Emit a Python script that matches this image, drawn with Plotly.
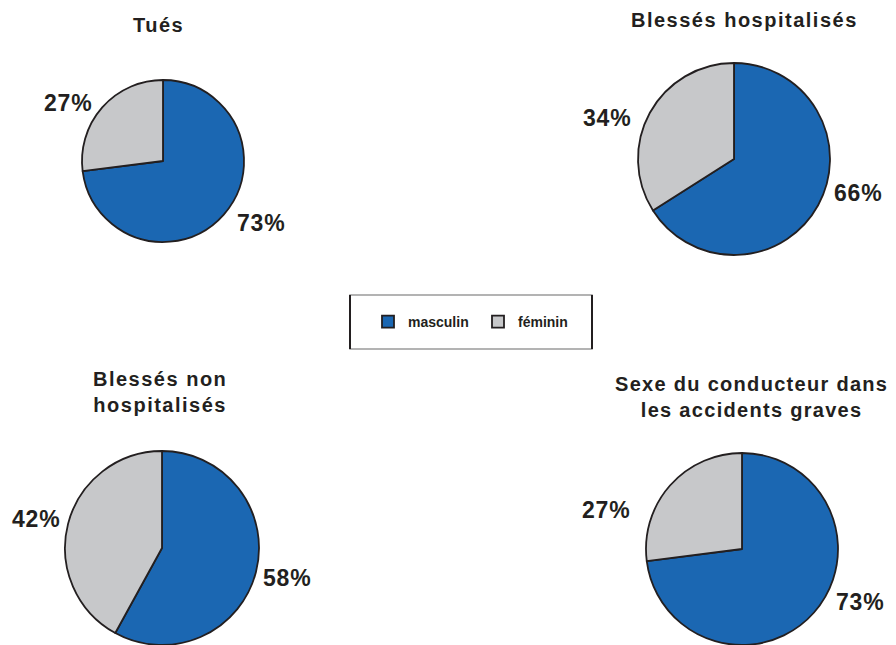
import plotly.graph_objects as go

W, H = 896, 645

categories = ["masculin", "féminin"]
titles = ["Tués", "Blessés hospitalisés", "Blessés non<br>hospitalisés",
          "Sexe du conducteur dans<br>les accidents graves"]
masculin = [73, 66, 58, 73]
feminin = [27, 34, 42, 27]

colors = ["#1b67b2", "#c7c8ca"]
edge = "#231f20"
FONT = "Liberation Sans, Arial, sans-serif"

# layout (pixel) settings: pie centre x, centre y, radius
pies = [(163, 161, 81), (734, 159, 96), (162, 548, 97), (742, 549, 96)]
title_pos = [(158, 25), (744, 20), (160, 392), (751, 397)]
title_spacing = [1.5, 1.5, 1.5, 1.3]
label_pos = [((261, 223), (68, 103)), ((858, 193), (607, 118)),
             ((287, 578), (36, 519)), ((860, 602), (606, 510))]


def spaced(t, px):
    return "<br>".join(f'<span style="letter-spacing:{px}px">{p}</span>' for p in t.split("<br>"))


fig = go.Figure()
for i, (cx, cy, r) in enumerate(pies):
    fig.add_trace(go.Pie(
        labels=categories,
        values=[masculin[i], feminin[i]],
        sort=False, direction="clockwise", rotation=0,
        marker=dict(colors=colors, line=dict(color=edge, width=1.8)),
        textinfo="none", hoverinfo="skip",
        showlegend=(i == 0),
        domain=dict(x=[(cx - r) / W, (cx + r) / W],
                    y=[max(0, 1 - (cy + r) / H), min(1, 1 - (cy - r) / H)]),
    ))

ann = []
for i, (tx, ty) in enumerate(title_pos):
    ann.append(dict(x=tx / W, y=1 - ty / H, xref="paper", yref="paper",
                    text=spaced(titles[i], title_spacing[i]), showarrow=False,
                    xanchor="center", yanchor="middle",
                    font=dict(family=FONT, size=20, color=edge, weight="bold")))
    vals = [masculin[i], feminin[i]]
    for (lx, ly), v in zip(label_pos[i], vals):
        ann.append(dict(x=lx / W, y=1 - ly / H, xref="paper", yref="paper",
                        text=spaced(f"{v}%", 0.8), showarrow=False, xanchor="center", yanchor="middle",
                        font=dict(family=FONT, size=23, color=edge, weight="bold")))

shapes = [
    dict(type="rect", xref="paper", yref="paper", x0=350 / W, x1=592 / W,
         y0=1 - 349 / H, y1=1 - 295 / H, line=dict(color="#9a9a9a", width=1.5)),
    dict(type="line", xref="paper", yref="paper", x0=350 / W, x1=350 / W,
         y0=1 - 349 / H, y1=1 - 295 / H, line=dict(color=edge, width=2)),
    dict(type="line", xref="paper", yref="paper", x0=592 / W, x1=592 / W,
         y0=1 - 349 / H, y1=1 - 295 / H, line=dict(color=edge, width=2)),
]

fig.update_layout(
    width=W, height=H, margin=dict(l=0, r=0, t=0, b=0),
    paper_bgcolor="white", plot_bgcolor="white",
    annotations=ann, shapes=shapes,
    legend=dict(orientation="h", x=368 / W, xanchor="left", y=1 - 322 / H, yanchor="middle",
                font=dict(family=FONT, size=14, color=edge, weight="bold"),
                bgcolor="rgba(0,0,0,0)", borderwidth=0, entrywidth=65,
                entrywidthmode="pixels", traceorder="normal"),
)

fig.write_html("out.html", config={"displayModeBar": False},
               post_script="document.body.style.margin='0';document.body.style.overflow='hidden';")
